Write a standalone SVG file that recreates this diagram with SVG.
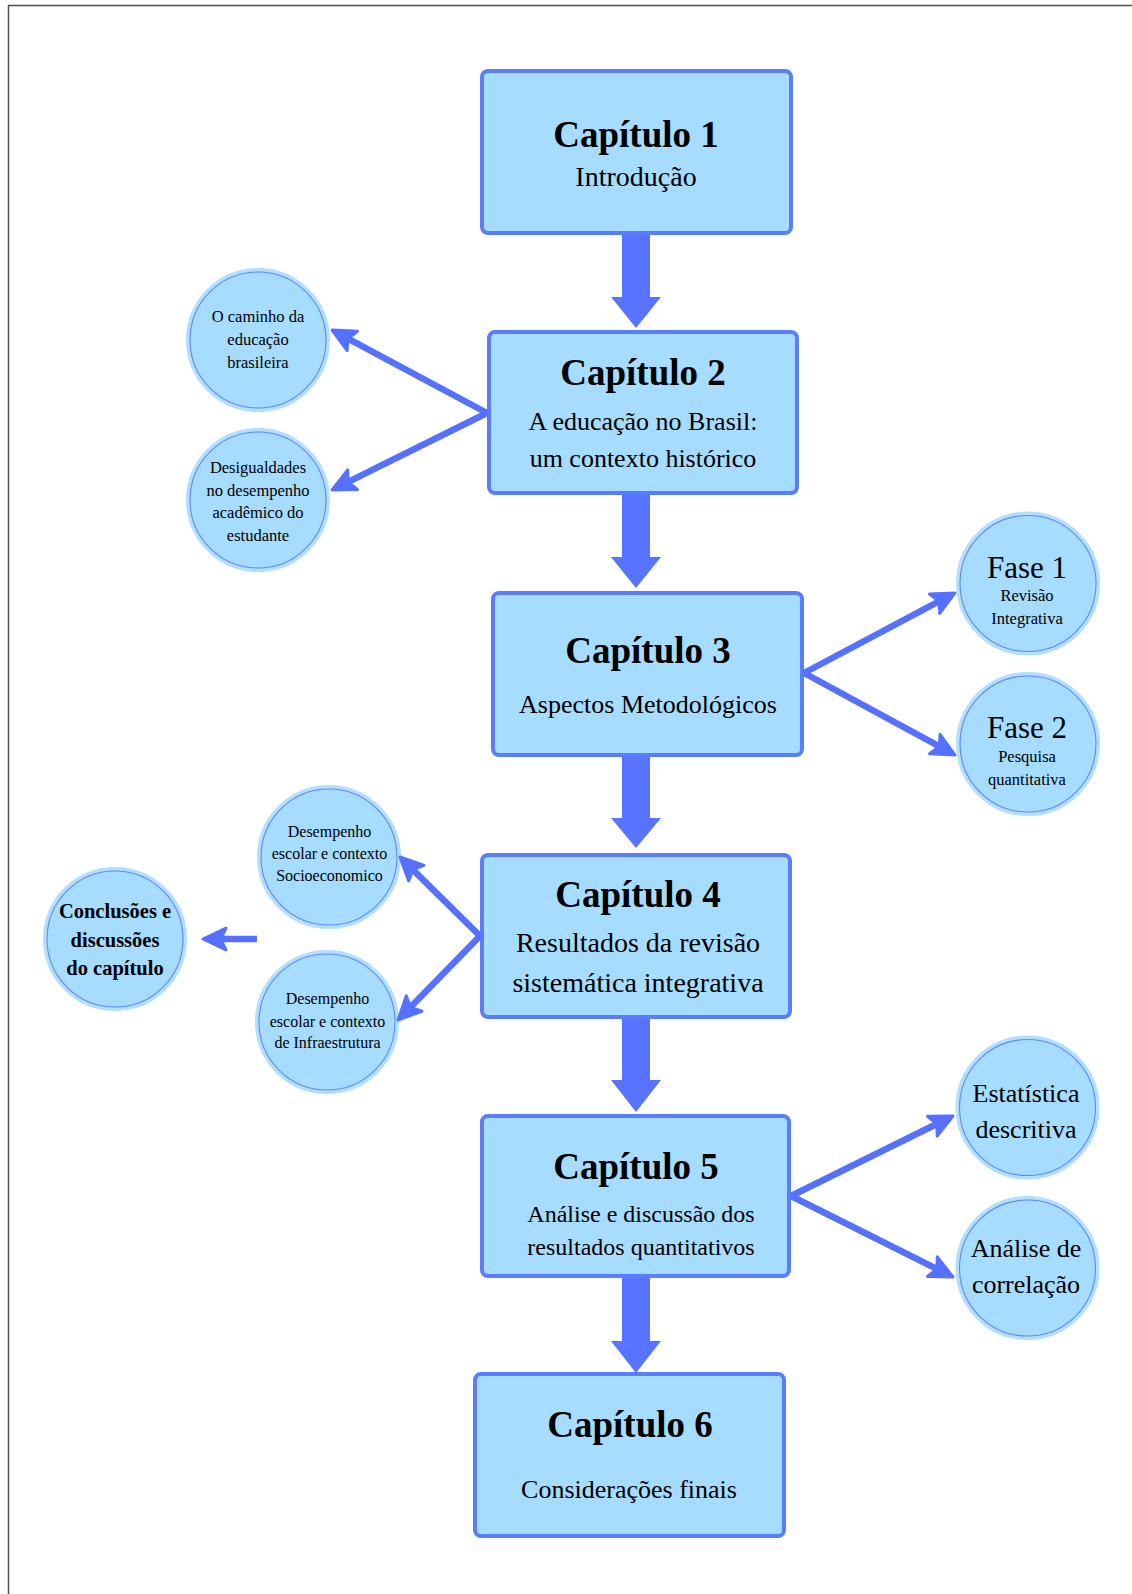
<svg xmlns="http://www.w3.org/2000/svg" width="1132" height="1594" viewBox="0 0 1132 1594">
<style>
.box{fill:#a5dcff;stroke:#5a7cff;stroke-width:4}
.halo{fill:#a5dcff;stroke:#b0e0fb;stroke-width:4}
.ring{fill:none;stroke:#6484ff;stroke-width:1.1}
text{font-family:"Liberation Serif","Times New Roman",serif;fill:#000;text-anchor:middle}
.t{font-size:37px;font-weight:bold}
.s26{font-size:26px}
.s28{font-size:28px}
.s24{font-size:24px}
.c16{font-size:16.5px}
.c16b{font-size:16px}
.cb{font-size:20.5px;font-weight:bold}
.f31{font-size:31px}
.side{stroke:#5670ff;stroke-width:6.5;fill:none;marker-end:url(#ah)}
.block{fill:#5773ff}
</style>
<defs>
<marker id="ah" markerUnits="userSpaceOnUse" markerWidth="32" markerHeight="32" viewBox="0 0 32 32" refX="19" refY="15" orient="auto">
<path d="M4,4 L27,15 L4,26 L9,15 Z" fill="#5670ff" stroke="#5670ff" stroke-width="3" stroke-linejoin="round"/>
</marker>
</defs>
<rect width="1132" height="1594" fill="#fff"/>
<g id="frame" stroke="#505050" stroke-width="1.5" fill="none">
<line x1="8.5" y1="5.5" x2="1132" y2="5.5"/>
<line x1="8.5" y1="5" x2="8.5" y2="1594"/>
</g>

<g id="cap1">
<rect class="box" x="482" y="71" width="309" height="162" rx="6"/>
<text class="t" x="636" y="147">Capítulo 1</text>
<text class="s28" x="636" y="186">Introdução</text>
</g>
<g id="cap2">
<rect class="box" x="489" y="332" width="308" height="161" rx="6"/>
<text class="t" x="643" y="385">Capítulo 2</text>
<text class="s26" x="643" y="430">A educação no Brasil:</text>
<text class="s26" x="643" y="467">um contexto histórico</text>
</g>
<g id="cap3">
<rect class="box" x="493" y="593" width="309" height="162" rx="6"/>
<text class="t" x="648" y="663">Capítulo 3</text>
<text class="s26" x="648" y="713">Aspectos Metodológicos</text>
</g>
<g id="cap4">
<rect class="box" x="482" y="855" width="308" height="162" rx="6"/>
<text class="t" x="638" y="907">Capítulo 4</text>
<text class="s28" x="638" y="952">Resultados da revisão</text>
<text class="s28" x="638" y="992">sistemática integrativa</text>
</g>
<g id="cap5">
<rect class="box" x="482" y="1116" width="307" height="160" rx="6"/>
<text class="t" x="636" y="1179">Capítulo 5</text>
<text class="s24" x="641" y="1222">Análise e discussão dos</text>
<text class="s24" x="641" y="1255">resultados quantitativos</text>
</g>
<g id="cap6">
<rect class="box" x="475" y="1374" width="309" height="162" rx="6"/>
<text class="t" x="630" y="1437">Capítulo 6</text>
<text class="s26" x="629" y="1498">Considerações finais</text>
</g>

<g id="n-caminho">
<circle class="halo" cx="258" cy="340" r="70"/>
<circle class="ring" cx="258" cy="340" r="68"/>
<text class="c16" x="258" y="322">O caminho da</text>
<text class="c16" x="258" y="345">educação</text>
<text class="c16" x="258" y="368">brasileira</text>
</g>
<g id="n-desigualdades">
<circle class="halo" cx="258" cy="500" r="70"/>
<circle class="ring" cx="258" cy="500" r="68"/>
<text class="c16" x="258" y="473">Desigualdades</text>
<text class="c16" x="258" y="496">no desempenho</text>
<text class="c16" x="258" y="518">acadêmico do</text>
<text class="c16" x="258" y="541">estudante</text>
</g>
<g id="n-fase1">
<circle class="halo" cx="1028" cy="583.5" r="70"/>
<circle class="ring" cx="1028" cy="583.5" r="68"/>
<text class="f31" x="1027" y="578">Fase 1</text>
<text class="c16" x="1027" y="601">Revisão</text>
<text class="c16" x="1027" y="623.5">Integrativa</text>
</g>
<g id="n-fase2">
<circle class="halo" cx="1028" cy="744" r="70"/>
<circle class="ring" cx="1028" cy="744" r="68"/>
<text class="f31" x="1027" y="738">Fase 2</text>
<text class="c16" x="1027" y="762">Pesquisa</text>
<text class="c16" x="1027" y="785">quantitativa</text>
</g>
<g id="n-conclusoes">
<circle class="halo" cx="115" cy="939" r="70"/>
<circle class="ring" cx="115" cy="939" r="68"/>
<text class="cb" x="115" y="918">Conclusões e</text>
<text class="cb" x="115" y="947">discussões</text>
<text class="cb" x="115" y="975">do capítulo</text>
</g>
<g id="n-socio">
<circle class="halo" cx="329" cy="857" r="70"/>
<circle class="ring" cx="329" cy="857" r="68"/>
<text class="c16b" x="329.5" y="837">Desempenho</text>
<text class="c16b" x="329.5" y="859">escolar e contexto</text>
<text class="c16b" x="329.5" y="881">Socioeconomico</text>
</g>
<g id="n-infra">
<circle class="halo" cx="327" cy="1022" r="70"/>
<circle class="ring" cx="327" cy="1022" r="68"/>
<text class="c16b" x="327.5" y="1004">Desempenho</text>
<text class="c16b" x="327.5" y="1027">escolar e contexto</text>
<text class="c16b" x="327.5" y="1048">de Infraestrutura</text>
</g>
<g id="n-estatistica">
<circle class="halo" cx="1027.5" cy="1107.5" r="70"/>
<circle class="ring" cx="1027.5" cy="1107.5" r="68"/>
<text class="s26" x="1026" y="1102">Estatística</text>
<text class="s26" x="1026" y="1138">descritiva</text>
</g>
<g id="n-correlacao">
<circle class="halo" cx="1027.5" cy="1268" r="70"/>
<circle class="ring" cx="1027.5" cy="1268" r="68"/>
<text class="s26" x="1026" y="1257">Análise de</text>
<text class="s26" x="1026" y="1293">correlação</text>
</g>

<g id="connectors">
<polygon class="block" points="622,235 650,235 650,297 661,297 636,328 611,297 622,297"/>
<polygon class="block" points="622,495 650,495 650,557 661,557 636,588 611,557 622,557"/>
<polygon class="block" points="622,757 650,757 650,818 661,818 636,848 611,818 622,818"/>
<polygon class="block" points="622,1019 650,1019 650,1080 661,1080 636,1112 611,1080 622,1080"/>
<polygon class="block" points="622,1278 650,1278 650,1341 661,1341 636,1373 611,1341 622,1341"/>
<line class="side" x1="487" y1="413" x2="339.1" y2="333.8"/>
<line class="side" x1="487" y1="413" x2="339.2" y2="486.4"/>
<line class="side" x1="804" y1="673" x2="947.9" y2="596.7"/>
<line class="side" x1="804" y1="673" x2="948" y2="751.2"/>
<line class="side" x1="480" y1="936" x2="405.7" y2="862.6"/>
<line class="side" x1="480" y1="936" x2="403.6" y2="1014.3"/>
<line class="side" x1="257" y1="939" x2="211" y2="939"/>
<line class="side" x1="791" y1="1196" x2="945.8" y2="1119.5"/>
<line class="side" x1="791" y1="1196" x2="945.8" y2="1273.4"/>
</g>
</svg>
